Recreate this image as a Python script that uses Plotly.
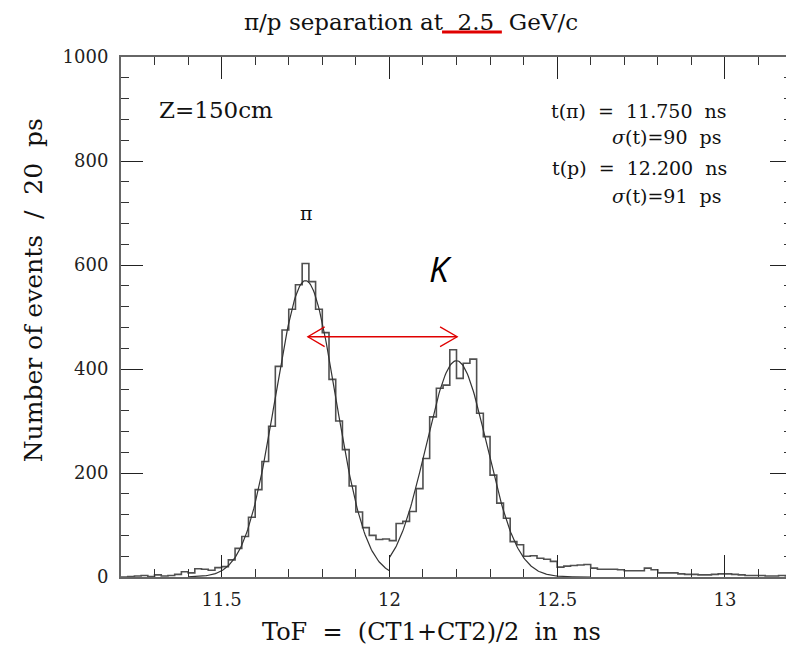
import numpy as np
import plotly.graph_objects as go

# ---------------- data ----------------
bin_start = 11.20          # ns, left edge of first bin
bin_width = 0.02           # ns (20 ps)
counts = [
    0, 1, 2, 3, 1, 4, 2, 3, 5, 10,            # 11.20 - 11.38
    8, 16, 15, 13, 18, 20, 33, 55, 78, 115,   # 11.40 - 11.58
    168, 222, 290, 405, 475, 515, 562, 603, 568, 515,   # 11.60 - 11.78
    470, 380, 300, 245, 175, 125, 95, 80, 72, 73,       # 11.80 - 11.98
    70, 103, 107, 126, 170, 228, 308, 363, 369, 437,    # 12.00 - 12.18
    382, 411, 419, 315, 270, 196, 142, 113, 68, 62,     # 12.20 - 12.38
    40, 41, 36, 34, 30, 19, 21, 22, 23, 24,             # 12.40 - 12.58
    17, 15, 15, 15, 14, 12, 12, 12, 17, 14,             # 12.60 - 12.78
    8, 8, 8, 6, 5, 5, 4, 4, 5, 6,                       # 12.80 - 12.98
    6, 5, 4, 3, 3, 3, 2, 2, 3, 2,                       # 13.00 - 13.18
]

# Gaussian fit parameters (as printed on the chart)
pi_mean, pi_sigma, pi_amp = 11.750, 0.090, 570
pi_fit_range = (11.40, 12.00)
p_mean, p_sigma, p_amp = 12.200, 0.091, 416
p_fit_range = (12.00, 12.60)

x_range = [11.2, 13.2]
y_range = [0, 1000]
x_ticks = [11.5, 12, 12.5, 13]
x_ticklabels = ["11.5", "12", "12.5", "13"]
y_ticks = [0, 200, 400, 600, 800, 1000]

# ---------------- build ----------------
edges = bin_start + bin_width * np.arange(len(counts) + 1)
hist_x = list(edges)
hist_y = list(counts) + [counts[-1]]

def gauss(lo, hi, mu, s, a):
    xx = np.linspace(lo, hi, 200)
    return xx, a * np.exp(-0.5 * ((xx - mu) / s) ** 2)

fig = go.Figure()
fig.add_trace(go.Scatter(x=hist_x, y=hist_y, mode="lines", line_shape="hv",
                         line=dict(color="#505050", width=1.6), hoverinfo="skip"))
gx, gy = gauss(*pi_fit_range, pi_mean, pi_sigma, pi_amp)
fig.add_trace(go.Scatter(x=gx, y=gy, mode="lines", line=dict(color="#333", width=1.2)))
gx, gy = gauss(*p_fit_range, p_mean, p_sigma, p_amp)
fig.add_trace(go.Scatter(x=gx, y=gy, mode="lines", line=dict(color="#333", width=1.2)))

OFF = 8                      # page body margin
L, R, T, B = 113, 0, 49, 72
pw, ph = 673, 520
W, H = L + pw + R, T + ph + B

def px(x):                   # screen x -> paper
    return (x - OFF - L) / pw

def py(y):                   # screen y -> paper
    return (OFF + T + ph - y) / ph

SERIF = "DejaVu Serif"
ann = []
def text(t, x, y, size, xanchor="center", yanchor="middle", family=SERIF, color="#111", angle=0):
    ann.append(dict(text=t, x=px(x), y=py(y), xref="paper", yref="paper", showarrow=False,
                    xanchor=xanchor, yanchor=yanchor, textangle=angle,
                    font=dict(family=family, size=size, color=color)))

text("π/p separation at  2.5  GeV/c", 412, 22, 23)
text("ToF  =  (CT1+CT2)/2  in  ns", 432, 632, 24)
text("Number of events  /  20  ps", 33, 290, 25, angle=-90)
text("Z=150cm", 157, 110, 23, xanchor="left")
text("t(π)  =  11.750  ns", 731, 111, 19, xanchor="right")
text("<i>σ</i>(t)=90  ps", 726, 137, 19, xanchor="right")
text("t(p)  =  12.200  ns", 731, 168, 19, xanchor="right")
text("<i>σ</i>(t)=91  ps", 726, 196, 19, xanchor="right")
text("π", 307, 213, 19)
text("<i>K</i>", 441, 268, 35, family="Open Sans", color="#000")

shapes = [
    # red underline in title
    dict(type="line", xref="paper", yref="paper", x0=px(443), x1=px(503), y0=py(32), y1=py(32),
         line=dict(color="#e00000", width=3)),
    # red double arrow between the two peaks
    dict(type="line", xref="x", yref="y", x0=pi_mean + 0.007, x1=p_mean + 0.002, y0=462, y1=462,
         line=dict(color="#e00000", width=1.3)),
    dict(type="path", xref="x", yref="y",
         path=f"M {pi_mean+0.057},481 L {pi_mean+0.007},462 L {pi_mean+0.057},443",
         line=dict(color="#e00000", width=1.3)),
    dict(type="path", xref="x", yref="y",
         path=f"M {p_mean-0.049},481 L {p_mean+0.002},462 L {p_mean-0.049},443",
         line=dict(color="#e00000", width=1.3)),
]

fig.update_layout(
    width=W, height=H, margin=dict(l=L, r=R, t=T, b=B),
    paper_bgcolor="white", plot_bgcolor="white", showlegend=False,
    annotations=ann, shapes=shapes,
    xaxis=dict(range=x_range, tickmode="array", tickvals=x_ticks, ticktext=x_ticklabels,
               ticks="inside", ticklen=22, tickwidth=1.3, tickcolor="#222",
               minor=dict(dtick=0.1, tick0=11.2, ticks="inside", ticklen=8, tickwidth=1.1, tickcolor="#333"),
               showline=True, linecolor="#666", linewidth=2, mirror="ticks",
               showgrid=False, zeroline=False, ticklabelstandoff=5,
               tickfont=dict(family=SERIF, size=18, color="#222")),
    yaxis=dict(range=y_range, tickmode="array", tickvals=y_ticks,
               ticks="inside", ticklen=22, tickwidth=1.3, tickcolor="#222",
               minor=dict(dtick=40, tick0=0, ticks="inside", ticklen=8, tickwidth=1.1, tickcolor="#333"),
               showline=True, linecolor="#666", linewidth=2, mirror="ticks",
               showgrid=False, zeroline=False, ticklabelstandoff=7,
               tickfont=dict(family=SERIF, size=18, color="#222")),
)

fig.write_html("out.html")
